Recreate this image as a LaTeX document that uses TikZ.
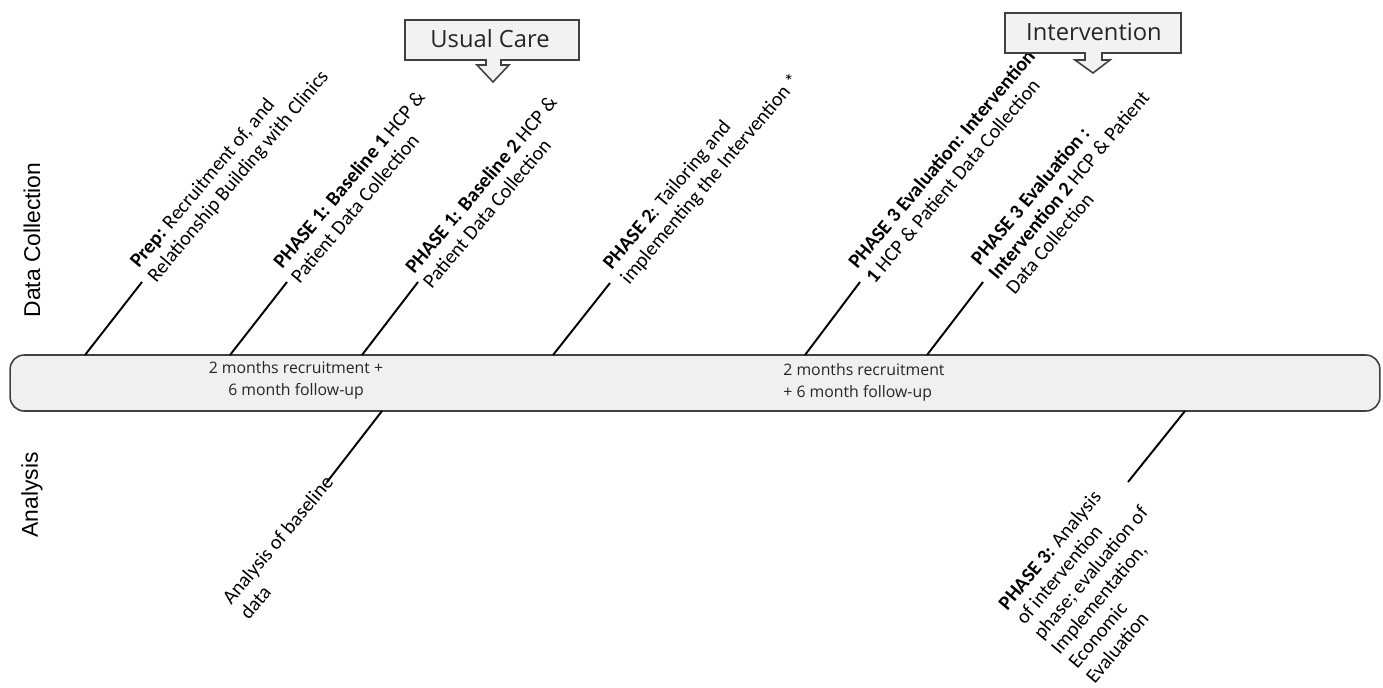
\documentclass[tikz,border=0pt]{standalone}
\usepackage{fontspec}
\setmainfont{Carlito}
\newfontfamily\barfont{Open Sans}
\newfontfamily\sidefont{Liberation Sans}
\usetikzlibrary{positioning}
\definecolor{barfill}{RGB}{240,240,240}
\definecolor{edgegray}{RGB}{64,64,64}
\definecolor{calloutfill}{RGB}{242,242,242}

\begin{document}
\begin{tikzpicture}[x=0.02cm, y=-0.02cm,
    spoke/.style={black, line width=1.1pt},
    phase/.style={rotate=50, anchor=south west, align=left, inner sep=0pt,
                  font=\fontsize{11.5}{13}\selectfont},
    bartext/.style={font=\barfont\fontsize{9}{12.5}\selectfont, text=black!85, inner sep=0pt},
    callout/.style={draw=edgegray, fill=calloutfill, line width=0.9pt},
    calltext/.style={font=\barfont\fontsize{13.5}{16}\selectfont, text=black!85},
    side/.style={rotate=90, font=\sidefont\fontsize{13}{15}\selectfont}]
  \useasboundingbox (0,0) rectangle (1383,687);

  % Timeline bar
  \node[draw=edgegray, fill=barfill, rounded corners=8, line width=0.9pt,
        minimum width=27.4cm, minimum height=1.12cm, inner sep=0pt] (bar) at (695,383) {};
  \node[bartext, align=center] (rec1) at (296,380) {2 months recruitment +\\6 month follow-up};
  \node[bartext, align=left, anchor=west] (rec2) at (783,382) {2 months recruitment\\+ 6 month follow-up};

  % Side labels
  \node[side] (dc) at (32,240) {Data Collection};
  \node[side] (an) at (32,495) {Analysis};

  % Spokes above the bar
  \foreach \i/\xa/\xb/\yb in {1/85/142/282, 2/230/287/282, 3/362/418/282,
                               4/553/610/283, 5/805/860/282, 6/927/983/282} {
    \coordinate (s\i a) at (\xa,355);
    \coordinate (s\i b) at (\xb,\yb);
    \draw[spoke] (s\i a) -- (s\i b);
  }
  % Spokes below the bar
  \foreach \i/\xa/\xb/\yb in {7/382/327/482, 8/1185/1128/482} {
    \coordinate (s\i a) at (\xa,411);
    \coordinate (s\i b) at (\xb,\yb);
    \draw[spoke] (s\i a) -- (s\i b);
  }

  % Phase labels
  \node[phase] (t1) at (159,286) {\textbf{Prep:} Recruitment of, and\\Relationship Building with Clinics};
  \node[phase] (t2) at (300,285) {\textbf{PHASE 1: Baseline 1} HCP \&\\Patient Data Collection};
  \node[phase] (t3) at (432,290) {\textbf{PHASE 1: Baseline 2} HCP \&\\Patient Data Collection};
  \node[phase] (t4) at (632,288) {\textbf{PHASE 2}: Tailoring and\\implementing the Intervention *};
  \node[phase] (t5) at (875,285) {\textbf{PHASE 3 Evaluation: Intervention}\\\textbf{1} HCP \& Patient Data Collection};
  \node[phase] (t6) at (1015,296) {\textbf{PHASE 3 Evaluation :}\\\textbf{Intervention 2} HCP \& Patient\\Data Collection};
  \node[phase] (t7) at (249,621) {Analysis of baseline\\data};
  \node[phase] (t8) at (1095,685) {\textbf{PHASE 3:} Analysis\\of intervention\\phase; evaluation of\\Implementation,\\Economic\\Evaluation};

  % Callouts
  \draw[callout] (405,20) -- (579,20) -- (579,60) -- (501,60) -- (501,65) -- (509,65)
    -- (493,82) -- (477,65) -- (486,65) -- (486,60) -- (405,60) -- cycle;
  \node[calltext] (usual) at (490,39) {Usual Care};
  \draw[callout] (1005,13) -- (1181,13) -- (1181,53) -- (1102,53) -- (1102,60) -- (1110,60)
    -- (1093,73) -- (1075,60) -- (1085,60) -- (1085,53) -- (1005,53) -- cycle;
  \node[calltext] (interv) at (1094,32) {Intervention};
\end{tikzpicture}
\end{document}
